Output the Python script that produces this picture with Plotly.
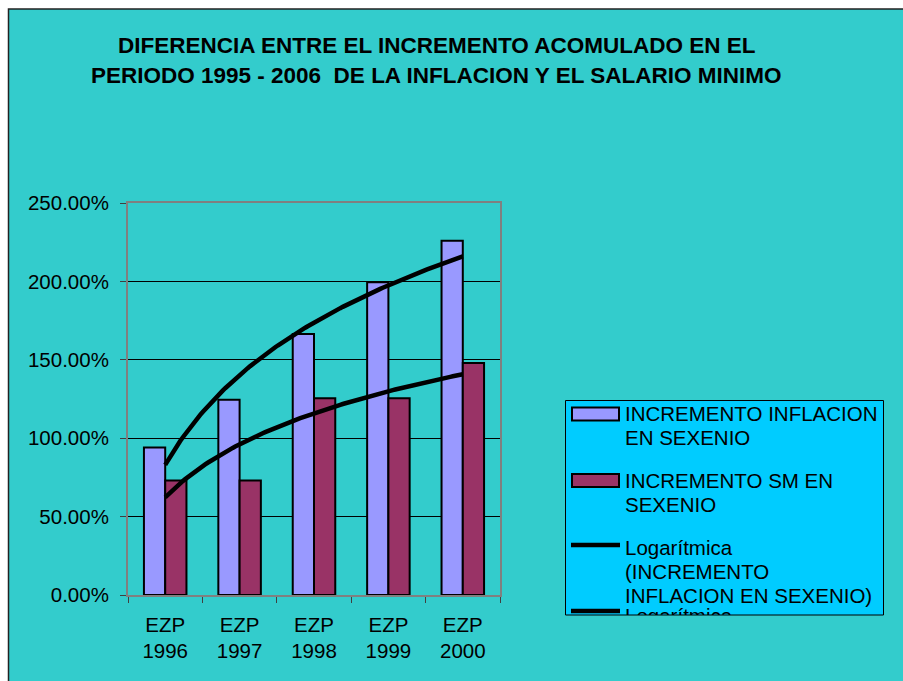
import numpy as np
import plotly.graph_objects as go

# ---------------- data ----------------
categories = ["EZP<br>1996", "EZP<br>1997", "EZP<br>1998", "EZP<br>1999", "EZP<br>2000"]
inflacion = [94.0, 124.5, 166.5, 199.5, 226.0]     # INCREMENTO INFLACION EN SEXENIO (%)
salario = [73.0, 73.0, 125.5, 125.5, 148.0]        # INCREMENTO SM EN SEXENIO (%)
y_ticks = [0, 50, 100, 150, 200, 250]
y_tick_text = ["0.00%", "50.00%", "100.00%", "150.00%", "200.00%", "250.00%"]
title_lines = ["DIFERENCIA ENTRE EL INCREMENTO ACOMULADO EN EL",
               "PERIODO 1995 - 2006  DE LA INFLACION Y EL SALARIO MINIMO"]
legend_names = ["INCREMENTO INFLACION EN SEXENIO", "INCREMENTO SM EN SEXENIO",
                "Logarítmica (INCREMENTO INFLACION EN SEXENIO)",
                "Logarítmica (INCREMENTO SM EN SEXENIO)"]

# ---------------- layout geometry ----------------
W, H = 903, 681
L, R, T, B = 128, 500, 203, 595   # plot area in pixels

def px(x):
    return (x - L) / (R - L)

def py(y):
    return (B - y) / (B - T)

FONT = "Arial, Liberation Sans, sans-serif"
C_INF = "#9999FF"
C_SM = "#993366"
LW = 4.5

# logarithmic trendlines (least squares fit y = a*ln(x) + b, as Excel does)
xi = np.arange(1, len(categories) + 1)
xs = np.linspace(1, len(categories), 120)
a1, b1 = np.polyfit(np.log(xi), inflacion, 1)
a2, b2 = np.polyfit(np.log(xi), salario, 1)

fig = go.Figure()
fig.add_trace(go.Bar(x=categories, y=inflacion, name=legend_names[0],
                     marker=dict(color=C_INF, line=dict(color="black", width=2))))
fig.add_trace(go.Bar(x=categories, y=salario, name=legend_names[1],
                     marker=dict(color=C_SM, line=dict(color="black", width=2))))
fig.add_trace(go.Scatter(x=xs, y=a1 * np.log(xs) + b1, xaxis="x2", mode="lines",
                         name=legend_names[2], line=dict(color="black", width=LW)))
fig.add_trace(go.Scatter(x=xs, y=a2 * np.log(xs) + b2, xaxis="x2", mode="lines",
                         name=legend_names[3], line=dict(color="black", width=LW)))

shapes = []
# outer chart area (teal with dark border)
shapes.append(dict(type="rect", xref="paper", yref="paper", layer="below",
                   x0=px(8.5), x1=px(1000), y0=py(1000), y1=py(9),
                   fillcolor="#33CCCC", line=dict(color="#222222", width=1.5)))
# legend box
shapes.append(dict(type="rect", xref="paper", yref="paper",
                   x0=px(565.5), x1=px(883.5), y0=py(615), y1=py(400.5),
                   fillcolor="#00CCFF", line=dict(color="black", width=1)))
# legend symbols
shapes.append(dict(type="rect", xref="paper", yref="paper",
                   x0=px(572), x1=px(619), y0=py(420.5), y1=py(407.5),
                   fillcolor=C_INF, line=dict(color="black", width=2)))
shapes.append(dict(type="rect", xref="paper", yref="paper",
                   x0=px(572), x1=px(619), y0=py(487), y1=py(474),
                   fillcolor=C_SM, line=dict(color="black", width=2)))
shapes.append(dict(type="line", xref="paper", yref="paper",
                   x0=px(571), x1=px(620), y0=py(545), y1=py(545),
                   line=dict(color="black", width=LW)))
shapes.append(dict(type="line", xref="paper", yref="paper",
                   x0=px(571), x1=px(620), y0=py(611), y1=py(611),
                   line=dict(color="black", width=LW)))

annotations = []
# title
for txt, yc in zip(title_lines, [45.3, 75.0]):
    annotations.append(dict(text="<b>" + txt + "</b>", xref="paper", yref="paper",
                            x=px(436.5), y=py(yc), xanchor="center", yanchor="middle",
                            showarrow=False, font=dict(family=FONT, size=22.5, color="black")))
# legend texts
leg_lines = [("INCREMENTO INFLACION", 413.7), ("EN SEXENIO", 437.5),
             ("INCREMENTO SM EN", 480.3), ("SEXENIO", 504.0),
             ("Logarítmica", 547.0), ("(INCREMENTO", 571.5), ("INFLACION EN SEXENIO)", 595.0)]
for txt, yc in leg_lines:
    annotations.append(dict(text=txt, xref="paper", yref="paper",
                            x=px(622.5), y=py(yc), xanchor="left", yanchor="middle",
                            showarrow=False, align="left",
                            font=dict(family=FONT, size=20.5, color="black")))
# last legend entry, clipped by the legend box
annotations.append(dict(text="Logarítmica<br>(INCREMENTO SM EN<br>SEXENIO)", xref="paper", yref="paper",
                        x=px(622.5), y=py(602), xanchor="left", yanchor="top",
                        showarrow=False, align="left", valign="top", width=250, height=11,
                        font=dict(family=FONT, size=20.5, color="black")))

fig.update_layout(
    width=W, height=H,
    margin=dict(l=L, r=W - R, t=T, b=H - B, pad=0),
    paper_bgcolor="white",
    plot_bgcolor="#C0C0C0",
    showlegend=False,
    barmode="group",
    bargap=0.4286,
    bargroupgap=0,
    font=dict(family=FONT, size=20, color="black"),
    shapes=shapes,
    annotations=annotations,
    xaxis=dict(type="category", categoryorder="array", categoryarray=categories,
               range=[-0.5, len(categories) - 0.5],
               tickson="boundaries", ticks="outside", ticklen=6, tickcolor="#404040", tickwidth=1,
               showline=True, mirror=True, linecolor="#808080", linewidth=2,
               showgrid=False, ticklabelstandoff=10,
               tickfont=dict(family=FONT, size=20.5, color="black")),
    xaxis2=dict(overlaying="x", range=[0.5, len(categories) + 0.5], visible=False),
    yaxis=dict(range=[0, 250], tickmode="array", tickvals=y_ticks, ticktext=y_tick_text,
               ticks="outside", ticklen=6, tickcolor="#404040", tickwidth=1,
               showline=True, mirror=True, linecolor="#808080", linewidth=2,
               showgrid=True, gridcolor="black", gridwidth=1, zeroline=False,
               ticklabelstandoff=7,
               tickfont=dict(family=FONT, size=20.5, color="black")),
)

fig.write_html("out.html")
